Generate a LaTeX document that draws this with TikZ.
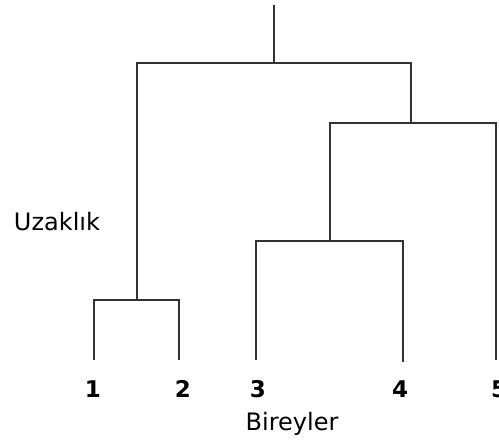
\documentclass[tikz,border=0pt]{standalone}
\usepackage{fontspec}
\setmainfont{DejaVu Sans}
\begin{document}
\begin{tikzpicture}[x=1pt,y=-1pt,
  link/.style={draw=black!80,line width=2.2pt,line join=miter},
  leaf/.style={font=\fontsize{23}{25}\selectfont\bfseries},
  axislabel/.style={font=\fontsize{24}{26}\selectfont}]
\useasboundingbox (0,0) rectangle (499,441);
% leaf tips
\coordinate (l1) at (94,360);
\coordinate (l2) at (179,360);
\coordinate (l3) at (256,360);
\coordinate (l4) at (403,362);
\coordinate (l5) at (496,360);
% merge points
\coordinate (m12) at (137,300);
\coordinate (m34) at (330,241);
\coordinate (m345) at (411,123);
\coordinate (mall) at (274,63);
\coordinate (root) at (274,5);
% dendrogram links
\draw[link] (l1) |- (m12) -| (l2);
\draw[link] (l3) |- (m34) -| (l4);
\draw[link] (m34) |- (m345) -| (l5);
\draw[link] (m12) |- (mall) -| (m345);
\draw[link] (mall) -- (root);
% labels
\node[leaf] (t1) at (93,389) {1};
\node[leaf] (t2) at (183,389) {2};
\node[leaf] (t3) at (258,389) {3};
\node[leaf] (t4) at (400,389) {4};
\node[leaf] (t5) at (499,389) {5};
\node[axislabel] (xl) at (292,424) {Bireyler};
\node[axislabel] (yl) at (57,222) {Uzaklık};
\end{tikzpicture}
\end{document}
